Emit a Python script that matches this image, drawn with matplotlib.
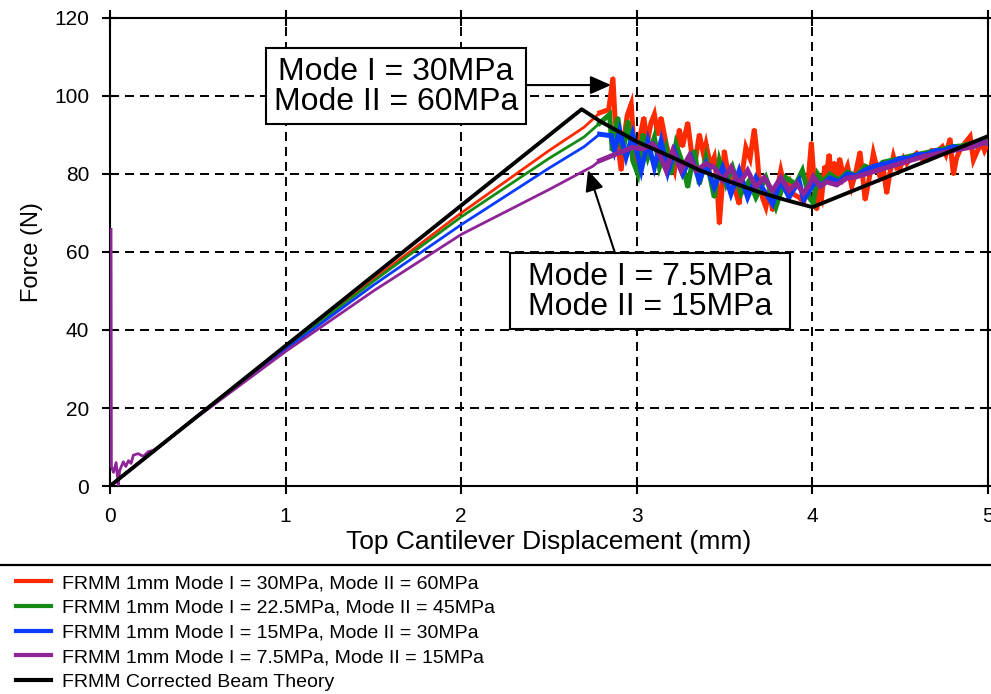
import numpy as np
import matplotlib
matplotlib.use("Agg")
import matplotlib.pyplot as plt
from matplotlib.lines import Line2D
from matplotlib.patches import Rectangle

plt.rcParams['font.family'] = ['Liberation Sans', 'DejaVu Sans']
plt.rcParams['lines.scale_dashes'] = False

# displacement (mm), force (N) read per run
red_pts = [(0, 0), (0.25, 9), (0.5, 18), (1.0, 35.5), (1.5, 53), (2.0, 70), (2.5, 86), (2.7, 92),
           (2.79, 95.7), (2.84, 96.5), (2.864, 104.7), (2.875, 95), (2.89, 88), (2.911, 80.9), (2.93, 90),
           (2.945, 95), (2.968, 97.9), (2.985, 86), (3.006, 82.5), (3.02, 90), (3.04, 94.5), (3.06, 88),
           (3.08, 93), (3.10, 95.3), (3.12, 90), (3.138, 94.5), (3.167, 87.7), (3.19, 84), (3.214, 80.9),
           (3.242, 91.5), (3.26, 87), (3.29, 93.2), (3.31, 86), (3.328, 81.7), (3.356, 90.2), (3.38, 85),
           (3.394, 87.7), (3.42, 82), (3.441, 84.3), (3.455, 79), (3.47, 67.2), (3.485, 76), (3.498, 86),
           (3.52, 80), (3.545, 78.3), (3.565, 75), (3.583, 72.3), (3.60, 80), (3.621, 86.8), (3.645, 84),
           (3.669, 91.5), (3.685, 85), (3.697, 78.3), (3.715, 74), (3.735, 71.5), (3.755, 76), (3.773, 70.6),
           (3.79, 74), (3.82, 80.9), (3.84, 77), (3.867, 78.3), (3.885, 75), (3.924, 74), (3.95, 72.8),
           (3.975, 78), (3.994, 88.1), (4.01, 78), (4.024, 70.8), (4.04, 76), (4.053, 74.2), (4.07, 82),
           (4.081, 80.2), (4.095, 85), (4.11, 79.3), (4.125, 83), (4.138, 77.6), (4.155, 84), (4.176, 79.3),
           (4.20, 82), (4.224, 76.8), (4.245, 80), (4.271, 85.7), (4.285, 80), (4.30, 73.3), (4.32, 78),
           (4.347, 85.3), (4.365, 82), (4.385, 79.3), (4.405, 81), (4.423, 75), (4.44, 80), (4.461, 84.5),
           (4.48, 81.5), (4.499, 81.5), (4.52, 84), (4.537, 82.7), (4.56, 84), (4.594, 85.3), (4.62, 84),
           (4.651, 83.6), (4.68, 86), (4.708, 85.7), (4.74, 87), (4.76, 85), (4.784, 89.1), (4.793, 84),
           (4.803, 79.8), (4.82, 84), (4.841, 86.2), (4.87, 88), (4.898, 89.6), (4.917, 83.6), (4.94, 86),
           (4.965, 87.9), (4.98, 86), (5.0, 87.9)]

green_pts = [(0, 0), (0.25, 9), (0.5, 18), (1.0, 35.3), (1.5, 52.5), (2.0, 69), (2.5, 84), (2.7, 89.5),
             (2.788, 93), (2.845, 95.3), (2.86, 86), (2.873, 90), (2.892, 94.5), (2.92, 85.1), (2.949, 93.6),
             (2.977, 83.4), (3.006, 80), (3.034, 90.2), (3.063, 84.3), (3.10, 89.4), (3.129, 81.7),
             (3.167, 86.8), (3.195, 80), (3.223, 87.7), (3.261, 82.6), (3.29, 76.6), (3.328, 86),
             (3.356, 77.4), (3.394, 84.3), (3.441, 74), (3.47, 83.4), (3.508, 77.4), (3.545, 81.7),
             (3.593, 74.9), (3.64, 78.3), (3.678, 74), (3.735, 79.1), (3.792, 71.5), (3.848, 79.1),
             (3.905, 77.4), (3.943, 80.9), (3.981, 74), (4.005, 72.5), (4.03, 80), (4.06, 78), (4.10, 80),
             (4.15, 78.5), (4.20, 80.5), (4.25, 79.5), (4.30, 82), (4.35, 81), (4.40, 83), (4.45, 83.5),
             (4.50, 84), (4.55, 84.5), (4.60, 85), (4.65, 85.5), (4.70, 86), (4.75, 86.5), (4.80, 87),
             (4.85, 87.2), (4.90, 87.8), (4.95, 88), (5.0, 88.5)]

blue_pts = [(0, 0), (0.25, 9), (0.5, 18), (1.0, 35), (1.5, 51.5), (2.0, 67), (2.5, 81.5), (2.7, 87),
            (2.788, 90.2), (2.854, 89.8), (2.873, 86), (2.902, 91.1), (2.939, 84.3), (2.977, 90.2),
            (3.025, 80.9), (3.063, 88.5), (3.10, 81.7), (3.138, 88.5), (3.176, 80.4), (3.214, 86),
            (3.261, 80), (3.309, 84.3), (3.356, 78.3), (3.394, 82.6), (3.441, 76.6), (3.489, 81.7),
            (3.536, 74.9), (3.583, 80.9), (3.631, 74), (3.678, 79.1), (3.725, 75.7), (3.773, 72.3),
            (3.82, 78.3), (3.867, 74), (3.924, 78.3), (3.95, 73.3), (3.972, 74.9), (4.019, 78.3),
            (4.05, 77), (4.10, 79), (4.15, 78), (4.20, 80), (4.25, 79.5), (4.30, 81), (4.35, 82),
            (4.40, 82.5), (4.45, 83), (4.50, 84), (4.55, 84), (4.60, 85), (4.65, 85), (4.70, 86),
            (4.75, 86), (4.80, 87), (4.85, 86.5), (4.90, 87.5), (4.95, 88), (5.0, 88)]

purple_pts = [(0.006, 65.8), (0.008, 5), (0.02, 3.5), (0.035, 6), (0.047, 0.3), (0.055, 4), (0.076, 6.2),
              (0.09, 5), (0.105, 6.5), (0.12, 5.8), (0.133, 7.9), (0.16, 8.3), (0.19, 7.6), (0.218, 8.8),
              (0.25, 9.2), (0.5, 17.8), (1.0, 34.5), (1.5, 50), (2.0, 64.5), (2.5, 76), (2.75, 82),
              (2.788, 83.4), (2.902, 85.5), (2.977, 86.8), (3.034, 86.4), (3.091, 87.7), (3.129, 85.1),
              (3.167, 80.9), (3.205, 86), (3.252, 80.9), (3.299, 84.7), (3.337, 80.9), (3.394, 82.6),
              (3.441, 81.7), (3.489, 78.3), (3.536, 81.7), (3.583, 77.4), (3.631, 80.9), (3.678, 76.6),
              (3.725, 79.1), (3.773, 75.7), (3.82, 79.1), (3.867, 75.7), (3.91, 77.6), (3.949, 75),
              (3.977, 76.8), (4.005, 79.3), (4.043, 76.8), (4.081, 78), (4.138, 77.2), (4.195, 78.9),
              (4.252, 79.3), (4.347, 80.6), (4.442, 81.9), (4.537, 83.2), (4.632, 84.5), (4.727, 85.3),
              (4.822, 86.2), (4.917, 87), (5.0, 88.3)]

cbt_pts = [(0, 0), (2.686, 96.6), (2.788, 93.6), (3.0, 88.3), (3.2, 84.3), (3.356, 81), (3.5, 78.5),
           (3.7, 75.3), (3.85, 73.3), (4.0, 71.5), (5.0, 89.7)]

labels = ['FRMM 1mm Mode I = 30MPa, Mode II = 60MPa',
          'FRMM 1mm Mode I = 22.5MPa, Mode II = 45MPa',
          'FRMM 1mm Mode I = 15MPa, Mode II = 30MPa',
          'FRMM 1mm Mode I = 7.5MPa, Mode II = 15MPa',
          'FRMM Corrected Beam Theory']
colors = ['#ff2a00', '#158a15', '#0a3cff', '#8e2496', 'black']

fig = plt.figure(figsize=(9.91, 6.94), dpi=100)
ax = fig.add_axes([0.111, 0.2997, 0.886, 0.6744])

for pts, c in zip([red_pts, green_pts, blue_pts, purple_pts], colors[:4]):
    d = np.array(pts)
    ax.plot(d[:, 0], d[:, 1], color=c, lw=2.0, zorder=3)
    tail = d[:, 0] >= 2.78
    ax.plot(d[tail, 0], d[tail, 1], color=c, lw=3.6, zorder=3, solid_joinstyle='miter')

cbt = np.array(cbt_pts)
ax.plot(cbt[:, 0], cbt[:, 1], color='black', lw=2.8, zorder=4)

ax.set_xlim(0, 5)
ax.set_ylim(0, 120)
ax.set_xticks([0, 1, 2, 3, 4, 5])
ax.set_yticks([0, 20, 40, 60, 80, 100, 120])
ax.grid(True, color='black', lw=1.4, linestyle=(0, (6.5, 4.3)), zorder=1)
ax.set_axisbelow(True)
ax.tick_params(direction='inout', length=12, width=1.5, labelsize=15,
               top=True, right=True, colors='black')
ax.tick_params(axis='x', pad=9)
ax.tick_params(axis='y', pad=9)
for s in ax.spines.values():
    s.set_linewidth(1.5)
ax.set_xlabel('Top Cantilever Displacement (mm)', fontsize=19, labelpad=3)
ax.set_ylabel('Force (N)', fontsize=17, labelpad=8)

# callout boxes and arrows
for x0, x1, y0, y1 in [(0.888, 2.369, 92.8, 112.3), (2.278, 3.872, 40.3, 59.7)]:
    ax.add_patch(Rectangle((x0, y0), x1 - x0, y1 - y0, fc='white', ec='black', lw=1.5, zorder=6))
ax.text(1.63, 102.4, 'Mode I = 30MPa\nMode II = 60MPa', fontsize=23, ha='center', va='center',
        zorder=7, linespacing=1.0)
ax.text(3.075, 49.8, 'Mode I = 7.5MPa\nMode II = 15MPa', fontsize=23, ha='center', va='center',
        zorder=7, linespacing=1.0)
arrow = dict(arrowstyle='-|>,head_length=0.9,head_width=0.4', mutation_scale=14,
             lw=1.5, color='black', shrinkA=0, shrinkB=0)
ax.annotate('', xy=(2.853, 102.8), xytext=(2.369, 102.8), arrowprops=arrow, zorder=6)
ax.annotate('', xy=(2.722, 81.0), xytext=(2.876, 59.7), arrowprops=arrow, zorder=6)

# separator above the legend
fig.add_artist(Line2D([0, 1], [0.186, 0.186], transform=fig.transFigure, color='black', lw=1.6))

handles = [Line2D([], [], color=c, lw=3) for c in colors]
fig.legend(handles, labels, loc='upper left', bbox_to_anchor=(0.016, 0.172), frameon=False,
           fontsize=14, handlelength=1.8, handletextpad=0.55, labelspacing=0.36,
           borderpad=0, borderaxespad=0)

fig.savefig('out.png', dpi=100)
